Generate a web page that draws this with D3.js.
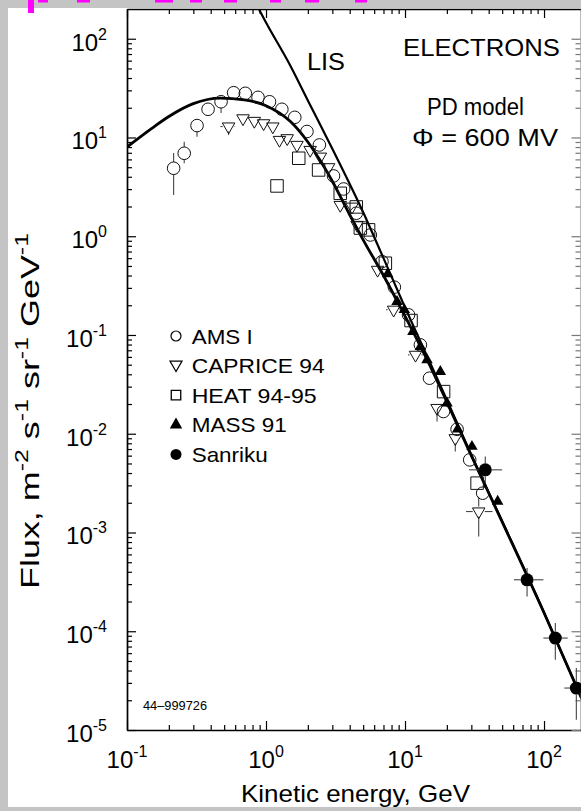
<!DOCTYPE html>
<html><head><meta charset="utf-8">
<script src="https://cdn.jsdelivr.net/npm/d3@7"></script>
<style>
body{margin:0;background:#c4c4c4;}
svg{display:block;font-family:"Liberation Sans",Arial,Helvetica,sans-serif;}
</style>
</head><body>
<svg id="c" width="581" height="811"></svg>
<script>
// ---------- data ----------
// axis extents and decade ticks
const xDomain = [0.1, 183];
const yDomain = [1e-5, 200];
const xMajor = [0.1, 1, 10, 100];
const xTickExp = ["-1", "0", "1", "2"];
const yMajor = [100, 10, 1, 0.1, 0.01, 1e-3, 1e-4, 1e-5];
const yTickExp = ["2", "1", "0", "-1", "-2", "-3", "-4", "-5"];

// LIS (local interstellar spectrum)
const lisE = [0.8, 1.0, 1.5, 2, 3, 5, 7, 10, 15, 20, 30, 50, 100, 200];
const lisJ = [265, 146, 53, 23.7, 7.7, 1.75, 0.6, 0.19, 0.054, 0.022, 6.1e-3, 1.3e-3, 1.55e-4, 1.67e-5];

// PD model, Phi = 600 MV
const pdE = [0.1, 0.15, 0.2, 0.3, 0.47, 0.7, 1.0, 1.5, 2, 2.5, 3, 4, 5, 7, 10, 15, 20, 30, 50, 100, 200];
const pdJ = [8.0, 12.3, 16.3, 22, 25, 24, 21, 14.5, 9.0, 5.6, 3.6, 1.65, 0.92, 0.4, 0.155, 0.05, 0.021, 6.0e-3, 1.28e-3, 1.54e-4, 1.67e-5];

// AMS I (open circles)
const amsE = [0.2165, 0.258, 0.319, 0.383, 0.475, 0.585, 0.71, 0.876, 1.06, 1.30, 1.61, 1.97, 2.42, 3.06, 3.62, 4.46, 5.63, 6.83, 8.38, 10.6, 12.9, 15.0, 18.9, 23.7, 29.2, 36.2];
const amsJ = [4.88, 6.92, 13.2, 19.3, 23.0, 28.4, 28.0, 25.5, 23.0, 19.3, 16.0, 11.5, 8.4, 4.08, 3.01, 1.71, 1.03, 0.553, 0.305, 0.160, 0.0794, 0.0365, 0.0168, 0.0111, 5.44e-3, 2.5e-3];
const amsErrIdx = [0, 1, 2, 4];
const amsErrLo = [2.62, 5.48, 10.2, 17.7];
const amsErrHi = [6.97, 9.07, 13.2, 23.0];

// CAPRICE 94 (open down triangles)
const capE = [0.538, 0.683, 0.824, 0.961, 1.12, 1.25, 1.42, 1.67, 2.08, 2.46, 2.82, 3.42, 4.16, 4.52, 6.35, 8.28, 11.9, 17.0, 23.0, 33.9];
const capJ = [12.9, 15.6, 14.7, 13.9, 12.9, 9.43, 9.81, 8.4, 7.47, 6.39, 4.99, 2.07, 1.99, 1.30, 0.456, 0.180, 0.0629, 0.0182, 9.0e-3, 1.63e-3];
const capErrIdx = [0, 15, 16, 17, 18, 19];
const capErrLo = [10.6, 0.180, 0.0629, 0.0133, 6.6e-3, 9.1e-4];
const capErrHi = [12.9, 0.180, 0.0629, 0.0182, 9.0e-3, 2.3e-3];
const capErrELo = [0.47, 7.3, 10.5, 17.0, 23.0, 27.5];
const capErrEHi = [0.60, 9.4, 13.4, 17.0, 23.0, 42.6];

// HEAT 94-95 (open squares)
const heatE = [1.20, 1.72, 2.39, 3.42, 4.46, 4.77, 5.47, 7.22, 11.05, 18.95, 33.0];
const heatJ = [3.23, 6.16, 4.69, 2.72, 1.98, 1.21, 1.16, 0.533, 0.140, 0.0267, 3.16e-3];

// MASS 91 (filled up triangles)
const massE = [7.50, 8.76, 9.89, 11.4, 12.9, 14.4, 17.95, 20.05, 23.9, 30.3, 46.4];
const massJ = [0.416, 0.218, 0.180, 0.108, 0.0763, 0.056, 0.0426, 0.0204, 0.0111, 7.42e-3, 2.06e-3];

// Sanriku (filled circles) with error crosses
const sanE = [37.8, 75.5, 120.6, 170.8];
const sanJ = [4.31e-3, 3.32e-4, 8.53e-5, 2.66e-5];
const sanELo = [28.9, 60.7, 99, 140];
const sanEHi = [50, 99, 148, 210];
const sanJLo = [3.16e-3, 2.25e-4, 5.14e-5, 1.27e-5];
const sanJHi = [5.87e-3, 4.37e-4, 1.21e-4, 4.25e-5];

const legendLabels = ["AMS I", "CAPRICE 94", "HEAT 94-95", "MASS 91", "Sanriku"];
const legendWidths = [61, 133, 125, 95, 76];

// ---------- drawing ----------
const W = 581, H = 811;
const svg = d3.select("#c");
svg.append("rect").attr("width", W).attr("height", H).attr("fill", "#c4c4c4");
svg.append("rect").attr("x", 8).attr("y", 8).attr("width", W - 8).attr("height", 799).attr("fill", "#fff");

// cropped magenta fragments along the top of the scan
const mg = svg.append("g").attr("fill", "#ff00ff");
mg.append("rect").attr("x", 28).attr("y", 0).attr("width", 6).attr("height", 13);
[[38, 10], [77, 13], [155, 18], [190, 12], [224, 13], [270, 11], [305, 14], [355, 12]].forEach(d =>
  mg.append("rect").attr("x", d[0]).attr("y", 0).attr("width", d[1]).attr("height", 2.5));

const F = {l: 127, r: 580.5, t: 9, b: 730};
const x = d3.scaleLog().domain(xDomain).range([F.l, F.r]);
const y = d3.scaleLog().domain(yDomain).range([F.b, F.t]);

const minorsOf = (majors, dom) => {
  const out = [];
  majors.forEach(m => { for (let k = 2; k <= 9; k++) { const v = m * k; if (v > dom[0] && v < dom[1]) out.push(v); } });
  return out;
};
const xMinor = minorsOf(xMajor, xDomain);
const yMinor = minorsOf(yMajor, yDomain);

function drawAxis(fn, scale, tr, majors, minors, color, w) {
  const g1 = svg.append("g").attr("transform", tr)
    .call(fn(scale).tickValues(majors.filter(v => v >= scale.domain()[0] && v <= scale.domain()[1]))
      .tickSizeInner(-9).tickSizeOuter(0).tickFormat(""));
  const g2 = svg.append("g").attr("transform", tr)
    .call(fn(scale).tickValues(minors).tickSizeInner(-5).tickSizeOuter(0).tickFormat(""));
  g2.select(".domain").remove();
  [g1, g2].forEach(g => { g.selectAll("line").attr("stroke", color).attr("stroke-width", 1.2); });
  g1.select(".domain").attr("stroke", color).attr("stroke-width", w);
}
drawAxis(d3.axisBottom, x, `translate(0,${F.b})`, xMajor, xMinor, "#000", 1.7);
drawAxis(d3.axisTop, x, `translate(0,${F.t})`, xMajor, xMinor, "#000", 1.7);
drawAxis(d3.axisLeft, y, `translate(${F.l},0)`, yMajor, yMinor, "#000", 1.7);
drawAxis(d3.axisRight, y, `translate(${F.r},0)`, yMajor, yMinor, "#777", 1);
svg.selectAll(".domain").attr("fill", "none");

// tick labels
const xl = svg.append("g").attr("font-size", 24).attr("fill", "#000");
xMajor.forEach((v, i) => {
  const t = xl.append("text").attr("x", x(v)).attr("y", 768).attr("text-anchor", "middle");
  t.append("tspan").text("10");
  t.append("tspan").attr("dy", -11).attr("font-size", 16).text(xTickExp[i]);
});
yMajor.forEach((v, i) => {
  const t = xl.append("text").attr("x", 107).attr("y", y(v) + 12).attr("text-anchor", "end");
  t.append("tspan").text("10");
  t.append("tspan").attr("dy", -11).attr("font-size", 16).text(yTickExp[i]);
});

// axis titles
svg.append("text").attr("x", 241).attr("y", 802).attr("font-size", 24)
  .attr("textLength", 229).attr("lengthAdjust", "spacingAndGlyphs").text("Kinetic energy, GeV");
const yt = svg.append("text").attr("transform", "translate(39,411) rotate(-90)")
  .attr("text-anchor", "middle").attr("font-size", 26)
  .attr("textLength", 356).attr("lengthAdjust", "spacingAndGlyphs");
[["Flux, m", false], ["-2", true], [" s", false], ["-1", true], [" sr", false], ["-1", true], [" GeV", false], ["-1", true]]
  .forEach((p, i) => {
    const ts = yt.append("tspan").text(p[0]);
    if (p[1]) ts.attr("font-size", 18).attr("dy", -11);
    else if (i > 0) ts.attr("dy", 11);
  });

// annotations
svg.append("text").attr("x", 403).attr("y", 55.5).attr("font-size", 23)
  .attr("textLength", 157).attr("lengthAdjust", "spacingAndGlyphs").text("ELECTRONS");
svg.append("text").attr("x", 307).attr("y", 70).attr("font-size", 23)
  .attr("textLength", 38).attr("lengthAdjust", "spacingAndGlyphs").text("LIS");
svg.append("text").attr("x", 427).attr("y", 115).attr("font-size", 23)
  .attr("textLength", 97).attr("lengthAdjust", "spacingAndGlyphs").text("PD model");
svg.append("text").attr("x", 412).attr("y", 146).attr("font-size", 23)
  .attr("textLength", 146).attr("lengthAdjust", "spacingAndGlyphs").text("Φ = 600 MV");
svg.append("text").attr("x", 143).attr("y", 710).attr("font-size", 12)
  .attr("textLength", 64).attr("lengthAdjust", "spacingAndGlyphs").text("44–999726");

// curves
svg.append("clipPath").attr("id", "clip").append("rect")
  .attr("x", F.l).attr("y", F.t).attr("width", F.r - F.l).attr("height", F.b - F.t);
const line = d3.line().x(d => x(d[0])).y(d => y(d[1])).curve(d3.curveMonotoneX);
const curves = svg.append("g").attr("clip-path", "url(#clip)").attr("fill", "none").attr("stroke", "#000");
curves.append("path").attr("d", line(lisE.map((e, i) => [e, lisJ[i]]))).attr("stroke-width", 2.2);
curves.append("path").attr("d", line(pdE.map((e, i) => [e, pdJ[i]]))).attr("stroke-width", 2.8);

// error bars
const eb = svg.append("g").attr("stroke", "#444").attr("stroke-width", 1.1);
function vbar(E, lo, hi, r, J) {
  if (hi > J && y(hi) < y(J) - r) eb.append("line").attr("x1", x(E)).attr("x2", x(E)).attr("y1", y(hi)).attr("y2", y(J) - r);
  if (lo < J && y(lo) > y(J) + r) eb.append("line").attr("x1", x(E)).attr("x2", x(E)).attr("y1", y(J) + r).attr("y2", y(lo));
}
function hbar(J, elo, ehi, r, E) {
  if (elo < E && x(elo) < x(E) - r) eb.append("line").attr("y1", y(J)).attr("y2", y(J)).attr("x1", x(elo)).attr("x2", x(E) - r);
  if (ehi > E && x(ehi) > x(E) + r) eb.append("line").attr("y1", y(J)).attr("y2", y(J)).attr("x1", x(E) + r).attr("x2", x(ehi));
}
amsErrIdx.forEach((k, i) => vbar(amsE[k], amsErrLo[i], amsErrHi[i], 6.3, amsJ[k]));
capErrIdx.forEach((k, i) => { vbar(capE[k], capErrLo[i], capErrHi[i], 5, capJ[k]); hbar(capJ[k], capErrELo[i], capErrEHi[i], 6, capE[k]); });
sanE.forEach((e, i) => { vbar(e, sanJLo[i], sanJHi[i], 6.5, sanJ[i]); hbar(sanJ[i], sanELo[i], sanEHi[i], 6.5, e); });

// markers
const mk = svg.append("g");
const tri = s => d3.symbol().type(d3.symbolTriangle).size(Math.sqrt(3) / 4 * s * s)();
const sq = s => d3.symbol().type(d3.symbolSquare).size(s * s)();
amsE.forEach((e, i) => mk.append("circle").attr("cx", x(e)).attr("cy", y(amsJ[i])).attr("r", 6.3)
  .attr("fill", "none").attr("stroke", "#111").attr("stroke-width", 1));
capE.forEach((e, i) => mk.append("path").attr("d", tri(12.5))
  .attr("transform", `translate(${x(e)},${y(capJ[i])}) rotate(180)`)
  .attr("fill", "none").attr("stroke", "#111").attr("stroke-width", 1));
heatE.forEach((e, i) => mk.append("path").attr("d", sq(12.5))
  .attr("transform", `translate(${x(e)},${y(heatJ[i])})`)
  .attr("fill", "none").attr("stroke", "#111").attr("stroke-width", 1));
massE.forEach((e, i) => mk.append("path").attr("d", tri(11.5))
  .attr("transform", `translate(${x(e)},${y(massJ[i])})`).attr("fill", "#000"));
sanE.forEach((e, i) => mk.append("circle").attr("cx", x(e)).attr("cy", y(sanJ[i])).attr("r", 6.5).attr("fill", "#000"));

// legend
const lg = svg.append("g");
const lx = 176, lb0 = 343.5, lstep = 29.6;
legendLabels.forEach((lab, i) => {
  const by = lb0 + i * lstep, cy = by - 7.5;
  if (i === 0) lg.append("circle").attr("cx", lx).attr("cy", cy).attr("r", 5).attr("fill", "none").attr("stroke", "#000").attr("stroke-width", 1.2);
  if (i === 1) lg.append("path").attr("d", tri(12)).attr("transform", `translate(${lx},${cy - 1}) rotate(180)`).attr("fill", "none").attr("stroke", "#000").attr("stroke-width", 1.2);
  if (i === 2) lg.append("path").attr("d", sq(9.5)).attr("transform", `translate(${lx},${cy})`).attr("fill", "none").attr("stroke", "#000").attr("stroke-width", 1.3);
  if (i === 3) lg.append("path").attr("d", tri(12.5)).attr("transform", `translate(${lx},${cy})`).attr("fill", "#000");
  if (i === 4) lg.append("circle").attr("cx", lx).attr("cy", cy).attr("r", 5.5).attr("fill", "#000");
  lg.append("text").attr("x", 191.7).attr("y", by).attr("font-size", 21)
    .attr("textLength", legendWidths[i]).attr("lengthAdjust", "spacingAndGlyphs").text(lab);
});
</script>
</body></html>
